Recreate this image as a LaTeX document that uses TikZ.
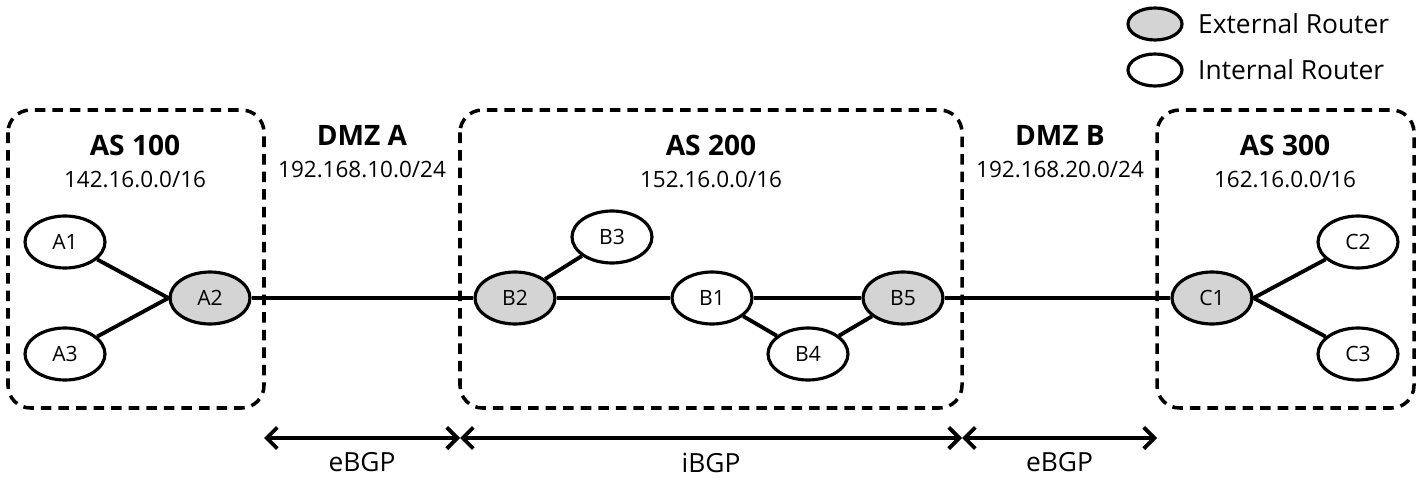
\documentclass[tikz,border=0pt]{standalone}
\usepackage{fontspec}
\setmainfont{Open Sans}
\usetikzlibrary{shapes.geometric,arrows.meta}
\tikzset{
  router/.style={ellipse,draw,line width=1.8pt,minimum width=1.6cm,minimum height=1.04cm,inner sep=0pt,font=\fontsize{12}{14}\selectfont},
  extrouter/.style={router,fill=black!17},
  asbox/.style={draw,dash pattern=on 6pt off 4pt,line width=2pt,rounded corners=0.45cm},
  link/.style={line width=2.2pt},
  span/.style={line width=2.2pt,{Straight Barb[length=6pt,width=12pt,line width=2.2pt]}-{Straight Barb[length=6pt,width=12pt,line width=2.2pt]}},
  title/.style={font=\bfseries\fontsize{16}{18}\selectfont},
  subnet/.style={font=\fontsize{12.8}{15}\selectfont},
  legendtext/.style={font=\fontsize{15}{17}\selectfont},
  bgp/.style={font=\fontsize{15}{17}\selectfont}
}
\begin{document}
\begin{tikzpicture}[x=0.02cm,y=-0.02cm]
    \useasboundingbox (0,0) rectangle (1421,486);

    % autonomous systems
    \draw[asbox] (8,110) rectangle (264,408);
    \draw[asbox] (460,110) rectangle (962,408);
    \draw[asbox] (1157,110) rectangle (1414,408);

    \node[title] (as100) at (135,145) {AS 100};
    \node[subnet] (net100) at (135,180) {142.16.0.0/16};
    \node[title] (dmza) at (362,135) {DMZ A};
    \node[subnet] (neta) at (362,170) {192.168.10.0/24};
    \node[title] (as200) at (711,145) {AS 200};
    \node[subnet] (net200) at (711,180) {152.16.0.0/16};
    \node[title] (dmzb) at (1060,135) {DMZ B};
    \node[subnet] (netb) at (1060,170) {192.168.20.0/24};
    \node[title] (as300) at (1285,145) {AS 300};
    \node[subnet] (net300) at (1285,180) {162.16.0.0/16};

    % routers
    \node[router] (A1) at (65,242) {A1};
    \node[router] (A3) at (65,354) {A3};
    \node[extrouter] (A2) at (210,298) {A2};
    \node[router] (B3) at (612,237) {B3};
    \node[extrouter] (B2) at (515,298) {B2};
    \node[router] (B1) at (712,298) {B1};
    \node[router] (B4) at (808,354) {B4};
    \node[extrouter] (B5) at (903,298) {B5};
    \node[extrouter] (C1) at (1212,298) {C1};
    \node[router] (C2) at (1358,242) {C2};
    \node[router] (C3) at (1358,354) {C3};

    % links
    \draw[link] (A1) -- (A2.west) -- (A3);
    \draw[link] (A2) -- (B2);
    \draw[link] (B2) -- (B3);
    \draw[link] (B2) -- (B1);
    \draw[link] (B1) -- (B5);
    \draw[link] (B1) -- (B4) -- (B5);
    \draw[link] (B5) -- (C1);
    \draw[link] (C2) -- (C1.east) -- (C3);

    % sessions
    \coordinate (s1) at (264,438);
    \coordinate (s2) at (460,438);
    \coordinate (s3) at (962,438);
    \coordinate (s4) at (1157,438);
    \draw[span] (s1) -- node[bgp,below=4pt] {eBGP} (s2);
    \draw[span] (s2) -- node[bgp,below=4pt] {iBGP} (s3);
    \draw[span] (s3) -- node[bgp,below=4pt] {eBGP} (s4);

    % legend
    \node[extrouter,minimum width=1.08cm,minimum height=0.64cm] (lext) at (1155,24) {};
    \node[router,minimum width=1.08cm,minimum height=0.64cm] (lint) at (1155,70) {};
    \node[legendtext,anchor=west] at (1192,24) {External Router};
    \node[legendtext,anchor=west] at (1192,70) {Internal Router};
\end{tikzpicture}
\end{document}
